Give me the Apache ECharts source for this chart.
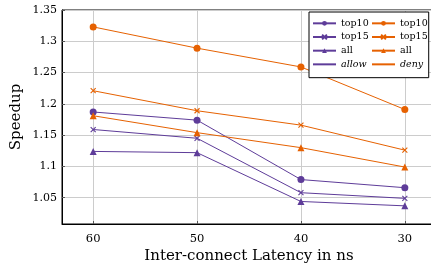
<!doctype html>
<html>
<head>
    <title>Speedup vs latency</title>
    <script src="https://cdn.jsdelivr.net/npm/echarts@6/dist/echarts.min.js"></script>
</head>
<style>
    html, body { margin: 0; padding: 0; }
    #main { width: 431px; height: 265px; }
</style>
<body>
<div id="main"></div>
<script>
  var latency = [60, 50, 40, 30];
  var yTicks = [1.05, 1.1, 1.15, 1.2, 1.25, 1.3, 1.35];

  var allowTop10 = [1.187, 1.174, 1.079, 1.066];
  var allowTop15 = [1.159, 1.145, 1.058, 1.049];
  var allowAll   = [1.124, 1.122, 1.044, 1.037];
  var denyTop10  = [1.323, 1.289, 1.259, 1.191];
  var denyTop15  = [1.221, 1.189, 1.166, 1.126];
  var denyAll    = [1.181, 1.154, 1.130, 1.099];

  var purple = '#5e3c99';
  var orange = '#e66101';
  var serif = 'DejaVu Serif';
  var cross = 'path://M0,0L10,10M10,0L0,10';

  function pairs(vals) {
    return latency.map(function (x, i) { return [x, vals[i]]; });
  }

  function mk(name, vals, color, symbol, size) {
    return {
      name: name,
      type: 'line',
      data: pairs(vals),
      symbol: symbol,
      symbolSize: size,
      showSymbol: true,
      lineStyle: { color: color, width: 1 },
      itemStyle: { color: color, borderColor: color, borderWidth: symbol === cross ? 1.1 : 0 },
      emphasis: { disabled: true }
    };
  }

  var labels = {
    'allow top10': 'top10', 'deny top10': 'top10',
    'allow top15': 'top15', 'deny top15': 'top15',
    'allow all': 'all', 'deny all': 'all',
    'allow': '{i|allow}', 'deny': '{i|deny}'
  };

  var legendText = {
    fontFamily: serif, fontSize: 9.5, color: '#000', width: 27, align: 'center',
    rich: { i: { fontFamily: serif, fontSize: 9.5, fontStyle: 'italic', color: '#000' } }
  };

  // two vertical legends side by side, the first one draws the box
  function legendCol(left, pad, boxed, names, plain) {
    return {
      left: left, top: 12,
      orient: 'vertical',
      padding: pad,
      itemGap: -5,
      itemWidth: 23, itemHeight: 6,
      backgroundColor: boxed ? '#fff' : 'transparent',
      borderColor: '#000', borderWidth: boxed ? 1 : 0, borderRadius: 0,
      selectedMode: false,
      data: names.concat([{ name: plain, itemStyle: { color: 'transparent', borderWidth: 0 } }]),
      formatter: function (n) { return labels[n]; },
      textStyle: legendText
    };
  }

  var myChart = echarts.init(document.getElementById('main'));
  var option = {
    animation: false,
    backgroundColor: '#fff',
    grid: {
      left: 62, top: 10, width: 374, bottom: 41,
      outerBoundsMode: 'none', containLabel: false,
      show: true, borderColor: '#000', borderWidth: 1
    },
    legend: [
      legendCol(309, [2, 60, 4, 3], true, ['allow top10', 'allow top15', 'allow all'], 'allow'),
      legendCol(368, [2, 3, 4, 3], false, ['deny top10', 'deny top15', 'deny all'], 'deny')
    ],
    xAxis: {
      type: 'value', min: 27, max: 63, inverse: true,
      name: 'Inter-connect Latency in ns', nameLocation: 'middle', nameGap: 17, nameMoveOverlap: false,
      nameTextStyle: { fontFamily: serif, fontSize: 15, color: '#000' },
      axisLine: { lineStyle: { color: '#000' } },
      axisTick: { inside: true, length: 3, lineStyle: { color: '#555' }, customValues: latency },
      axisLabel: { customValues: latency, fontFamily: serif, fontSize: 11.5, color: '#000', margin: 4 },
      splitLine: { show: true, lineStyle: { color: '#ccc' } }
    },
    yAxis: {
      type: 'value', min: 1.008, max: 1.35,
      name: 'Speedup', nameLocation: 'middle', nameGap: 31, nameRotate: 90, nameMoveOverlap: false,
      nameTextStyle: { fontFamily: serif, fontSize: 15, color: '#000' },
      axisLine: { show: true, lineStyle: { color: '#000' } },
      axisTick: { show: true, inside: true, length: 3, lineStyle: { color: '#555' }, customValues: yTicks },
      axisLabel: { customValues: yTicks, fontFamily: serif, fontSize: 11, color: '#000', margin: 5 },
      splitLine: { show: true, lineStyle: { color: '#ccc' } }
    },
    series: [
      mk('allow top10', allowTop10, purple, 'circle', 7),
      mk('deny top10', denyTop10, orange, 'circle', 7),
      mk('allow top15', allowTop15, purple, cross, 5),
      mk('deny top15', denyTop15, orange, cross, 5),
      mk('allow all', allowAll, purple, 'triangle', 7),
      mk('deny all', denyAll, orange, 'triangle', 7),
      mk('allow', [], purple, 'none', 0),
      mk('deny', [], orange, 'none', 0)
    ]
  };
  myChart.setOption(option);
</script>
</body>
</html>
